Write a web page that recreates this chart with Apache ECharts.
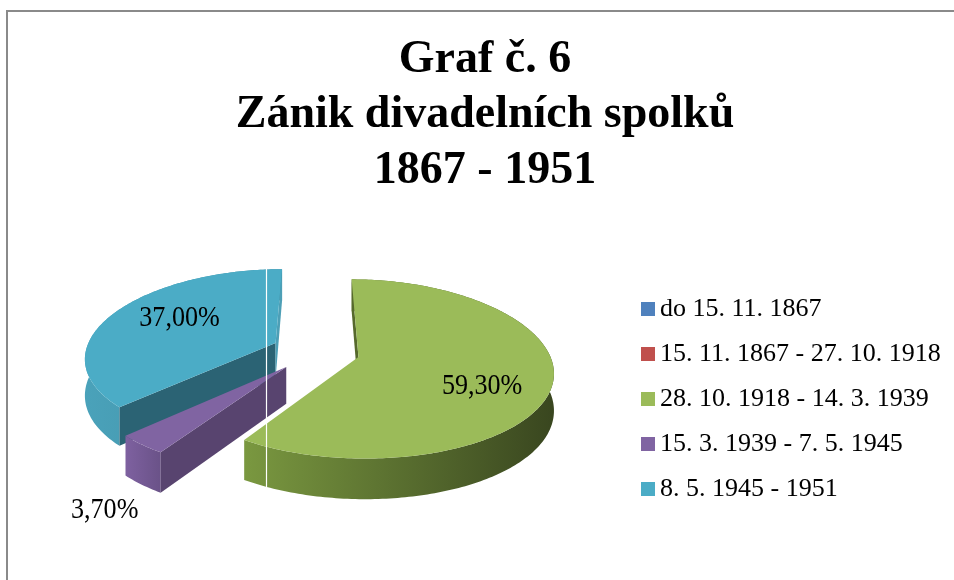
<!DOCTYPE html>
<html>
<head>
<meta charset="utf-8">
<title>Graf č. 6</title>
<script src="https://cdn.jsdelivr.net/npm/echarts@6/dist/echarts.min.js"></script>
<style>
  html, body { margin: 0; padding: 0; background: #fff; }
  #chart { width: 954px; height: 580px; }
</style>
</head>
<body>
<div id="chart"></div>
<script>
const categories = [
  'do 15. 11. 1867',
  '15. 11. 1867 - 27. 10. 1918',
  '28. 10. 1918 - 14. 3. 1939',
  '15. 3. 1939 - 7. 5. 1945',
  '8. 5. 1945 - 1951'
]
const shares = [0, 0, 59.3, 3.7, 37.0]

const topColors = ['#4f81bd', '#c0504d', '#9bbb59', '#8064a2', '#4bacc6']
const wallColors = [
  ['#4f81bd', '#2c4a70'],
  ['#c0504d', '#72302e'],
  ['#7a9840', '#39461f'],
  ['#7e61a0', '#6a5288'],
  ['#4aa2ba', '#3f8ca1']
]
const startFaceColors = ['#385d8a', '#8c3836', '#56692c', '#58446f', '#2b6374']
const endFaceColors = ['#385d8a', '#8c3836', '#56692c', '#58446f', '#4d9fb6']
// label placement along the slice's mid direction (horizontal, depth), outside flag
const labelSpots = [[0.6, 0.8, 0], [0.6, 0.8, 0], [0.63, 1.08, 0], [1.22, 1.28, 1], [0.6, 0.76, 0]]
const seriesZ = [2, 2, 3, 4, 2]

// 3D pie layout
const CX = 315.6, CY = 351, RX = 190, RY = 88, BOW = 12, PERSP = 0.16
const DEPTH = 36, EXPLODE = 0.233
const FONT = '"Liberation Serif", "Times New Roman", serif'

const total = shares.reduce((s, v) => s + v, 0)
const startAngles = []
shares.reduce((acc, v) => { startAngles.push(acc / total * Math.PI * 2); return acc + v }, 0)

function project(u, v) {
  return [CX + RX * u * (1 - PERSP * v), CY - RY * v + BOW * v * v]
}
function depthAt(v) {
  return DEPTH * (1 - 0.12 * v)
}
function fmt(v) {
  return v.toFixed(2).replace('.', ',') + '%'
}

function renderSlice(i) {
  return function (params, api) {
    const val = api.value(0)
    if (!val) return { type: 'group', children: [] }
    const a0 = startAngles[i]
    const a1 = a0 + val / total * Math.PI * 2
    const mid = (a0 + a1) / 2
    const ou = Math.sin(mid) * EXPLODE
    const ov = Math.cos(mid) * EXPLODE
    const steps = Math.max(6, Math.ceil((a1 - a0) / (Math.PI / 180)))
    const top = [], bottom = []
    for (let k = 0; k <= steps; k++) {
      const a = a0 + (a1 - a0) * k / steps
      const u = ou + Math.sin(a), v = ov + Math.cos(a)
      const p = project(u, v)
      top.push(p)
      bottom.push([p[0], p[1] + depthAt(v)])
    }
    const apex = project(ou, ov)
    const apexB = [apex[0], apex[1] + depthAt(ov)]
    const last = top.length - 1
    const children = []

    children.push({
      type: 'polygon',
      shape: { points: top.concat(bottom.slice().reverse()) },
      style: {
        fill: new echarts.graphic.LinearGradient(0, 0, 1, 0, [
          { offset: 0, color: wallColors[i][0] },
          { offset: 1, color: wallColors[i][1] }
        ])
      }
    })
    if (Math.sin(a0) <= 0.01) {
      children.push({
        type: 'polygon',
        shape: { points: [apex, top[0], bottom[0], apexB] },
        style: { fill: startFaceColors[i] }
      })
    }
    if (Math.sin(a1) >= -0.01) {
      children.push({
        type: 'polygon',
        shape: { points: [apex, top[last], bottom[last], apexB] },
        style: { fill: endFaceColors[i] }
      })
    }
    children.push({
      type: 'polygon',
      shape: { points: [apex].concat(top) },
      style: { fill: topColors[i] }
    })

    const spot = labelSpots[i]
    const lu = ou + Math.sin(mid) * spot[0]
    const lv = ov + Math.cos(mid) * spot[1]
    const lp = project(lu, lv)
    if (spot[2]) lp[1] += depthAt(lv)
    children.push({
      type: 'text',
      x: lp[0],
      y: lp[1],
      scaleX: 0.87,
      style: {
        text: fmt(val),
        fill: '#000',
        fontFamily: FONT,
        fontSize: 30,
        align: 'center',
        verticalAlign: 'middle'
      }
    })
    return { type: 'group', children: children }
  }
}

const chart = echarts.init(document.getElementById('chart'))

const option = {
  animation: false,
  graphic: [
    {
      type: 'rect',
      shape: { x: 7, y: 11, width: 1000, height: 1000 },
      style: { fill: 'none', stroke: '#8a8a8a', lineWidth: 2 },
      silent: true
    },
    {
      type: 'text',
      style: {
        x: 485,
        y: 32,
        text: 'Graf č. 6\nZánik divadelních spolků\n1867 - 1951',
        align: 'center',
        verticalAlign: 'top',
        fontFamily: FONT,
        fontWeight: 'bold',
        fontSize: 46,
        lineHeight: 55.5,
        fill: '#000'
      },
      silent: true
    },
    {
      type: 'line',
      shape: { x1: 266.5, y1: 268, x2: 266.5, y2: 490 },
      style: { stroke: '#ffffff', lineWidth: 1.2 },
      z: 10,
      silent: true
    }
  ],
  legend: {
    orient: 'vertical',
    left: 636,
    top: 291,
    itemWidth: 14,
    itemHeight: 14,
    itemGap: 19,
    icon: 'rect',
    selectedMode: false,
    data: categories,
    textStyle: {
      fontFamily: FONT,
      fontSize: 26,
      lineHeight: 26,
      color: '#000'
    }
  },
  series: categories.map((name, i) => ({
    name: name,
    type: 'custom',
    coordinateSystem: 'none',
    silent: true,
    z: seriesZ[i],
    itemStyle: { color: topColors[i] },
    renderItem: renderSlice(i),
    data: [shares[i]]
  }))
}

chart.setOption(option)
window.addEventListener('resize', () => chart.resize())
</script>
</body>
</html>
